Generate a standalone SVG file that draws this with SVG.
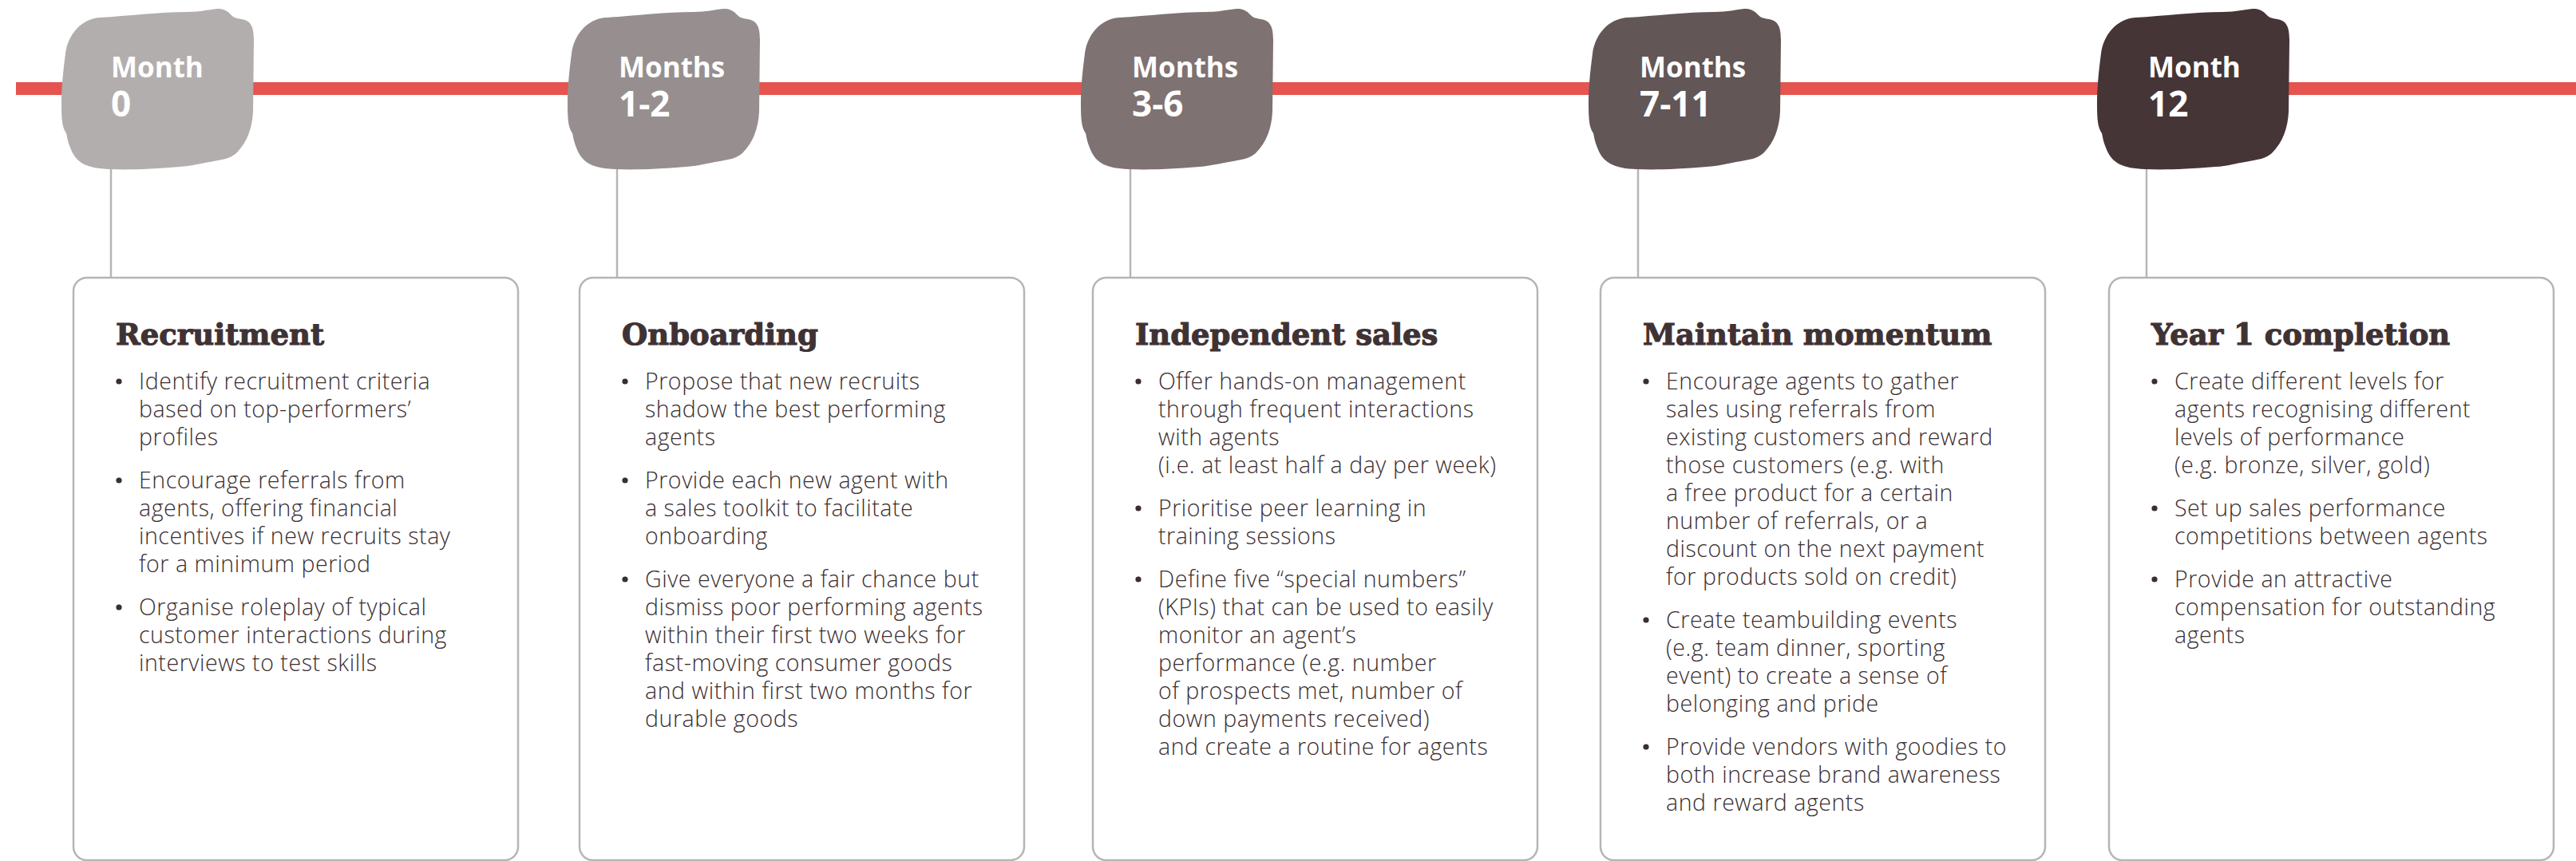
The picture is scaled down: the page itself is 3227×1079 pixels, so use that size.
<svg xmlns="http://www.w3.org/2000/svg" width="3227" height="1079" viewBox="0 0 3227 1079">
<defs>
<style>
.mtxt{font-family:"Open Sans","DejaVu Sans",sans-serif;font-weight:700;fill:#ffffff}
.ml{font-size:35px}
.mn{font-size:44px}
.box{fill:#ffffff;stroke:#b9b4b4;stroke-width:2.5}
.conn{stroke:#b9b4b4;stroke-width:2.5;fill:none}
.title{font-family:"DejaVu Serif","Liberation Serif",serif;font-weight:700;font-size:37px;fill:#3f3234;stroke:#3f3234;stroke-width:1.1}
.body{font-family:"Open Sans","Liberation Sans",sans-serif;font-weight:300;font-size:28.5px;letter-spacing:0.55px;fill:#3a2e30}
.dot{fill:#3a2e30}
</style>
<path id="blob" d="M 82 67 C 85 45, 100 24, 125 22 C 160 20, 200 15, 235 15 C 250 15, 262 12, 272 11 C 282 10, 287 16, 291 20 C 294 23, 298 23, 303 24 C 314 26, 318 33, 318 50 L 317 140 C 316 160, 310 178, 296 192 C 288 199, 278 200, 268 202 C 250 205, 240 208, 225 209 C 190 212, 160 213, 137 212 C 110 211, 95 205, 88 185 C 84 175, 84 170, 83 167 C 78 160, 77 150, 77 130 C 77 110, 79 90, 82 67 Z"/>
</defs>
<rect x="0" y="0" width="3227" height="1079" fill="#ffffff"/>
<rect id="timeline" x="20" y="103" width="3207" height="16" fill="#e5544f"/>

<g id="connectors">
<line class="conn" x1="139" y1="205" x2="139" y2="348"/>
<line class="conn" x1="773" y1="205" x2="773" y2="348"/>
<line class="conn" x1="1416" y1="205" x2="1416" y2="348"/>
<line class="conn" x1="2052" y1="205" x2="2052" y2="348"/>
<line class="conn" x1="2689" y1="205" x2="2689" y2="348"/>
</g>

<g id="m0">
<use href="#blob" fill="#b3aeae"/>
<text class="mtxt"><tspan class="ml" x="139" y="97">Month</tspan><tspan class="mn" x="139" y="146">0</tspan></text>
</g>
<g id="m1-2" transform="translate(634,0)">
<use href="#blob" fill="#978f8f"/>
<text class="mtxt"><tspan class="ml" x="141" y="97">Months</tspan><tspan class="mn" x="141" y="146">1-2</tspan></text>
</g>
<g id="m3-6" transform="translate(1277,0)">
<use href="#blob" fill="#7e7272"/>
<text class="mtxt"><tspan class="ml" x="141" y="97">Months</tspan><tspan class="mn" x="141" y="146">3-6</tspan></text>
</g>
<g id="m7-11" transform="translate(1913,0)">
<use href="#blob" fill="#625657"/>
<text class="mtxt"><tspan class="ml" x="141" y="97">Months</tspan><tspan class="mn" x="141" y="146">7-11</tspan></text>
</g>
<g id="m12" transform="translate(2550,0)">
<use href="#blob" fill="#463537"/>
<text class="mtxt"><tspan class="ml" x="141" y="97">Month</tspan><tspan class="mn" x="141" y="146">12</tspan></text>
</g>

<g id="box-recruitment" transform="translate(92,0)">
<rect class="box" x="0" y="348" width="557" height="730" rx="17"/>
<text class="title" x="53" y="432">Recruitment</text>
<circle class="dot" cx="57" cy="478" r="3.6"/>
<circle class="dot" cx="57" cy="602" r="3.6"/>
<circle class="dot" cx="57" cy="761" r="3.6"/>
<text class="body">
<tspan x="82" y="488">Identify recruitment criteria</tspan>
<tspan x="82" y="523">based on top-performers’</tspan>
<tspan x="82" y="558">profiles</tspan>
<tspan x="82" y="612">Encourage referrals from</tspan>
<tspan x="82" y="647">agents, offering financial</tspan>
<tspan x="82" y="682">incentives if new recruits stay</tspan>
<tspan x="82" y="717">for a minimum period</tspan>
<tspan x="82" y="771">Organise roleplay of typical</tspan>
<tspan x="82" y="806">customer interactions during</tspan>
<tspan x="82" y="841">interviews to test skills</tspan>
</text>
</g>

<g id="box-onboarding" transform="translate(726,0)">
<rect class="box" x="0" y="348" width="557" height="730" rx="17"/>
<text class="title" x="53" y="432">Onboarding</text>
<circle class="dot" cx="57" cy="478" r="3.6"/>
<circle class="dot" cx="57" cy="602" r="3.6"/>
<circle class="dot" cx="57" cy="726" r="3.6"/>
<text class="body">
<tspan x="82" y="488">Propose that new recruits</tspan>
<tspan x="82" y="523">shadow the best performing</tspan>
<tspan x="82" y="558">agents</tspan>
<tspan x="82" y="612">Provide each new agent with</tspan>
<tspan x="82" y="647">a sales toolkit to facilitate</tspan>
<tspan x="82" y="682">onboarding</tspan>
<tspan x="82" y="736">Give everyone a fair chance but</tspan>
<tspan x="82" y="771">dismiss poor performing agents</tspan>
<tspan x="82" y="806">within their first two weeks for</tspan>
<tspan x="82" y="841">fast-moving consumer goods</tspan>
<tspan x="82" y="876">and within first two months for</tspan>
<tspan x="82" y="911">durable goods</tspan>
</text>
</g>

<g id="box-independent-sales" transform="translate(1369,0)">
<rect class="box" x="0" y="348" width="557" height="730" rx="17"/>
<text class="title" x="53" y="432">Independent sales</text>
<circle class="dot" cx="57" cy="478" r="3.6"/>
<circle class="dot" cx="57" cy="637" r="3.6"/>
<circle class="dot" cx="57" cy="726" r="3.6"/>
<text class="body">
<tspan x="82" y="488">Offer hands-on management</tspan>
<tspan x="82" y="523">through frequent interactions</tspan>
<tspan x="82" y="558">with agents</tspan>
<tspan x="82" y="593">(i.e. at least half a day per week)</tspan>
<tspan x="82" y="647">Prioritise peer learning in</tspan>
<tspan x="82" y="682">training sessions</tspan>
<tspan x="82" y="736">Define five “special numbers”</tspan>
<tspan x="82" y="771">(KPIs) that can be used to easily</tspan>
<tspan x="82" y="806">monitor an agent’s</tspan>
<tspan x="82" y="841">performance (e.g. number</tspan>
<tspan x="82" y="876">of prospects met, number of</tspan>
<tspan x="82" y="911">down payments received)</tspan>
<tspan x="82" y="946">and create a routine for agents</tspan>
</text>
</g>

<g id="box-maintain-momentum" transform="translate(2005,0)">
<rect class="box" x="0" y="348" width="557" height="730" rx="17"/>
<text class="title" x="53" y="432">Maintain momentum</text>
<circle class="dot" cx="57" cy="478" r="3.6"/>
<circle class="dot" cx="57" cy="777" r="3.6"/>
<circle class="dot" cx="57" cy="936" r="3.6"/>
<text class="body">
<tspan x="82" y="488">Encourage agents to gather</tspan>
<tspan x="82" y="523">sales using referrals from</tspan>
<tspan x="82" y="558">existing customers and reward</tspan>
<tspan x="82" y="593">those customers (e.g. with</tspan>
<tspan x="82" y="628">a free product for a certain</tspan>
<tspan x="82" y="663">number of referrals, or a</tspan>
<tspan x="82" y="698">discount on the next payment</tspan>
<tspan x="82" y="733">for products sold on credit)</tspan>
<tspan x="82" y="787">Create teambuilding events</tspan>
<tspan x="82" y="822">(e.g. team dinner, sporting</tspan>
<tspan x="82" y="857">event) to create a sense of</tspan>
<tspan x="82" y="892">belonging and pride</tspan>
<tspan x="82" y="946">Provide vendors with goodies to</tspan>
<tspan x="82" y="981">both increase brand awareness</tspan>
<tspan x="82" y="1016">and reward agents</tspan>
</text>
</g>

<g id="box-year1-completion" transform="translate(2642,0)">
<rect class="box" x="0" y="348" width="557" height="730" rx="17"/>
<text class="title" x="53" y="432">Year 1 completion</text>
<circle class="dot" cx="57" cy="478" r="3.6"/>
<circle class="dot" cx="57" cy="637" r="3.6"/>
<circle class="dot" cx="57" cy="726" r="3.6"/>
<text class="body">
<tspan x="82" y="488">Create different levels for</tspan>
<tspan x="82" y="523">agents recognising different</tspan>
<tspan x="82" y="558">levels of performance</tspan>
<tspan x="82" y="593">(e.g. bronze, silver, gold)</tspan>
<tspan x="82" y="647">Set up sales performance</tspan>
<tspan x="82" y="682">competitions between agents</tspan>
<tspan x="82" y="736">Provide an attractive</tspan>
<tspan x="82" y="771">compensation for outstanding</tspan>
<tspan x="82" y="806">agents</tspan>
</text>
</g>
</svg>
